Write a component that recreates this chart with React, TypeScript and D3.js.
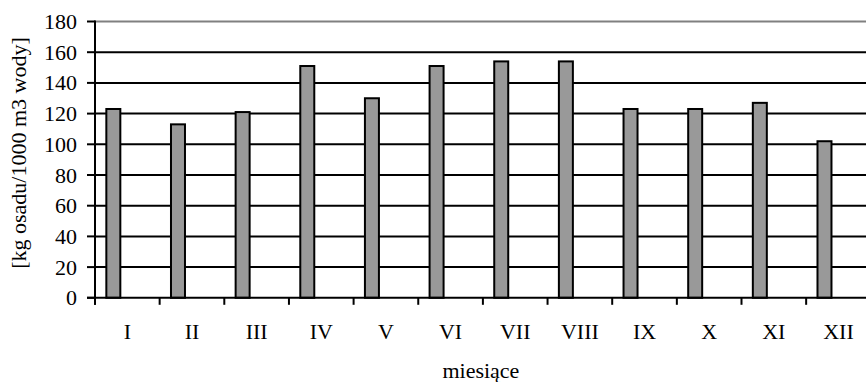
import React from "react";
import * as d3 from "d3";

const months = ["I", "II", "III", "IV", "V", "VI", "VII", "VIII", "IX", "X", "XI", "XII"];
const values = [123, 113, 121, 151, 130, 151, 154, 154, 123, 123, 127, 102];
const seriesSlots = ["s1", "s2", "s3"];
const yTicks = [0, 20, 40, 60, 80, 100, 120, 140, 160, 180];
const yTitle = "[kg osadu/1000 m3 wody]";
const xTitle = "miesiące";

const W = 866;
const H = 382;
const left = 95;
const step = 64.65;
const right = left + step * months.length;
const top = 21.5;
const bottom = 297.8;
const font = "'Liberation Serif', 'Times New Roman', serif";

export default function App() {
  const x = d3.scaleBand<string>().domain(months).range([left, right]).padding(0);
  const xs = d3.scaleBand<string>().domain(seriesSlots).range([0, x.bandwidth()]).paddingInner(0).paddingOuter(0.81);
  const y = d3.scaleLinear().domain([0, 180]).range([bottom, top]);

  return (
    <svg width={W} height={H} style={{ position: "absolute", left: 0, top: 0, background: "#fff" }}>
      {yTicks.filter((t) => t > 0 && t < 180).map((t) => (
        <line key={"g" + t} x1={left} x2={W} y1={y(t)} y2={y(t)} stroke="#000" strokeWidth={2} />
      ))}
      <line x1={left} x2={W} y1={y(180)} y2={y(180)} stroke="#808080" strokeWidth={2} />
      {months.map((m, i) => (
        <rect
          key={m}
          x={(x(m) as number) + (xs("s1") as number)}
          y={y(values[i])}
          width={xs.bandwidth()}
          height={y(0) - y(values[i])}
          fill="#999999"
          stroke="#000"
          strokeWidth={2}
        />
      ))}
      <line x1={left} x2={left} y1={top - 1} y2={bottom + 7} stroke="#000" strokeWidth={2} />
      <line x1={left - 8} x2={W} y1={bottom} y2={bottom} stroke="#000" strokeWidth={2} />
      {yTicks.map((t) => (
        <g key={"t" + t}>
          <line x1={left - 8} x2={left} y1={y(t)} y2={y(t)} stroke="#000" strokeWidth={2} />
          <text x={77} y={y(t) + 7.5} textAnchor="end" fontFamily={font} fontSize={22} fill="#000">
            {t}
          </text>
        </g>
      ))}
      {months.map((m) => (
        <line key={"xt" + m} x1={x(m) as number} x2={x(m) as number} y1={bottom} y2={bottom + 7} stroke="#000" strokeWidth={2} />
      ))}
      {months.map((m) => (
        <text
          key={"xl" + m}
          x={(x(m) as number) + x.bandwidth() / 2}
          y={339}
          textAnchor="middle"
          fontFamily={font}
          fontSize={22}
          fill="#000"
        >
          {m}
        </text>
      ))}
      <text x={(left + right) / 2 - 2} y={378} textAnchor="middle" fontFamily={font} fontSize={22} fill="#000">
        {xTitle}
      </text>
      <text
        transform={`translate(26,${153}) rotate(-90)`}
        textAnchor="middle"
        fontFamily={font}
        fontSize={22}
        fill="#000"
      >
        {yTitle}
      </text>
    </svg>
  );
}
